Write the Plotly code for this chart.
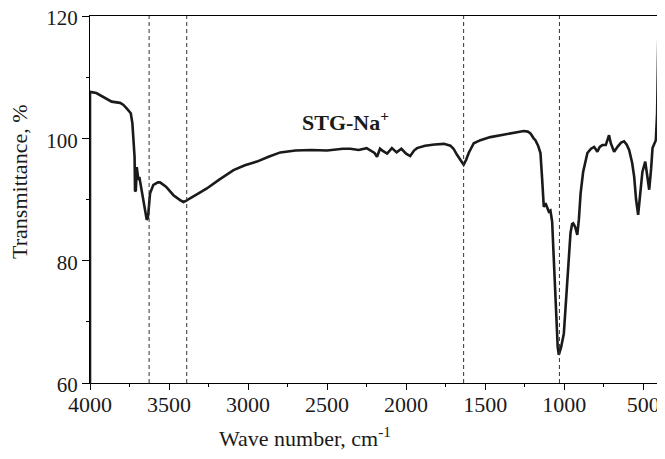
import plotly.graph_objects as go

# FTIR spectrum of STG-Na+
wavenumber = [4000, 4000, 3960, 3937, 3900, 3863, 3810, 3790, 3768, 3742, 3732, 3725,
              3718, 3715, 3710, 3704, 3698, 3694, 3688, 3680, 3673, 3658, 3645, 3641,
              3635, 3631, 3620, 3599, 3570, 3557, 3519, 3472, 3430, 3409, 3390, 3367,
              3300, 3261, 3180, 3092, 3020, 2944, 2870, 2796, 2700, 2600, 2500, 2450,
              2400, 2353, 2300, 2250, 2200, 2184, 2165, 2150, 2120, 2090, 2060, 2030,
              2000, 1974, 1950, 1931, 1880, 1820, 1760, 1720, 1700, 1678, 1655, 1636,
              1620, 1604, 1572, 1530, 1467, 1400, 1340, 1290, 1256, 1230, 1213, 1193,
              1182, 1165, 1150, 1139, 1129, 1118, 1108, 1097, 1087, 1076, 1070, 1064,
              1062, 1055, 1049, 1041, 1034, 1027, 1019, 1002, 990, 981, 970, 960,
              950, 943, 930, 917, 907, 896, 880, 853, 830, 811, 800, 790,
              775, 758, 737, 725, 716, 705, 684, 660, 640, 621, 605, 589,
              570, 557, 545, 532, 520, 505, 487, 475, 462, 450, 441, 420,
              412, 407, 403]
transmittance = [60, 107.6, 107.4, 107.1, 106.6, 106.0, 105.8, 105.5, 104.9, 104.1, 102.5, 100.0,
                 97.0, 91.3, 91.5, 95.3, 94.0, 93.2, 93.7, 92.5, 91.6, 89.4, 87.5, 86.7,
                 86.9, 87.7, 91.0, 92.4, 92.8, 92.8, 92.1, 90.7, 89.9, 89.6, 89.8, 90.2,
                 91.2, 91.8, 93.3, 94.8, 95.6, 96.2, 97.0, 97.7, 98.0, 98.1, 98.0, 98.2,
                 98.3, 98.3, 98.1, 98.4, 97.6, 97.0, 98.3, 98.0, 97.5, 98.4, 97.7, 98.3,
                 97.5, 97.1, 98.0, 98.4, 98.8, 99.0, 99.1, 98.8, 98.3, 97.3, 96.4, 95.7,
                 96.5, 97.6, 99.2, 99.7, 100.2, 100.5, 100.8, 101.0, 101.2, 101.1, 100.8, 100.0,
                 99.7, 98.8, 97.6, 93.2, 88.8, 89.4, 88.8, 88.0, 88.2, 86.4, 82.8, 79.0,
                 76.8, 73.5, 71.0, 65.9, 64.6, 65.2, 65.9, 68.1, 72.5, 76.3, 80.5, 84.5,
                 86.0, 86.1, 85.5, 84.2, 86.7, 91.0, 94.5, 97.6, 98.3, 98.6, 98.2, 97.8,
                 98.6, 98.9, 98.9, 99.8, 100.5, 99.2, 97.8, 98.7, 99.3, 99.5, 99.0, 98.1,
                 96.0, 93.7, 90.0, 87.5, 90.5, 94.5, 96.2, 94.0, 91.6, 95.0, 98.4, 99.7,
                 104, 112, 119]

peak_lines = [3626, 3388, 1636, 1030]
x_ticks = [4000, 3500, 3000, 2500, 2000, 1500, 1000, 500]
y_ticks = [60, 80, 100, 120]

FONT = "Liberation Serif"
INK = "#1a1a1a"

fig = go.Figure()
fig.add_trace(go.Scatter(x=wavenumber, y=transmittance, mode="lines",
                         line=dict(color=INK, width=2.6), showlegend=False))

for wn in peak_lines:
    fig.add_vline(x=wn, line=dict(color="#333333", width=1, dash="4px,3px"))

fig.add_annotation(x=2670, y=102.8, text="<b>STG-Na<sup>+</sup></b>", showarrow=False,
                   xanchor="left", yanchor="middle",
                   font=dict(family=FONT, size=22, color=INK))

# axis titles sit off-centre in the original, so they are placed as annotations
fig.add_annotation(xref="paper", yref="paper", x=0.378, y=-0.147,
                   text="Wave number, cm<sup>-1</sup>", showarrow=False,
                   xanchor="center", yanchor="middle",
                   font=dict(family=FONT, size=22, color=INK))
fig.add_annotation(xref="paper", yref="paper", x=-0.123, y=0.548,
                   text="Transmittance, %", showarrow=False, textangle=-90,
                   xanchor="center", yanchor="middle",
                   font=dict(family=FONT, size=22, color=INK))

fig.update_xaxes(range=[4000, 400], tickvals=x_ticks, ticks="outside", ticklen=6,
                 tickwidth=1, tickcolor="black", showline=True, linecolor="black",
                 linewidth=1, mirror=True, showgrid=False, zeroline=False, automargin=False,
                 minor=dict(dtick=250, tick0=0, ticks="outside", ticklen=3, tickcolor="black"),
                 tickfont=dict(family=FONT, size=22, color=INK), ticklabelstandoff=-4,
                 ticklabeloverflow="allow")
fig.update_yaxes(range=[60, 120], tickvals=y_ticks, ticks="outside", ticklen=7,
                 tickwidth=1, tickcolor="black", showline=True, linecolor="black",
                 linewidth=1, mirror=True, showgrid=False, zeroline=False, automargin=False,
                 minor=dict(dtick=10, tick0=0, ticks="outside", ticklen=3, tickcolor="black"),
                 tickfont=dict(family=FONT, size=21, color=INK), ticklabeloverflow="allow",
                 ticklabelshift=2)

# page body adds an 8px margin, so the figure is shrunk to keep the plot box in place
fig.update_layout(width=657, height=451, margin=dict(l=82, r=6, t=8, b=76),
                  plot_bgcolor="white", paper_bgcolor="white")

fig.write_html("out.html")
